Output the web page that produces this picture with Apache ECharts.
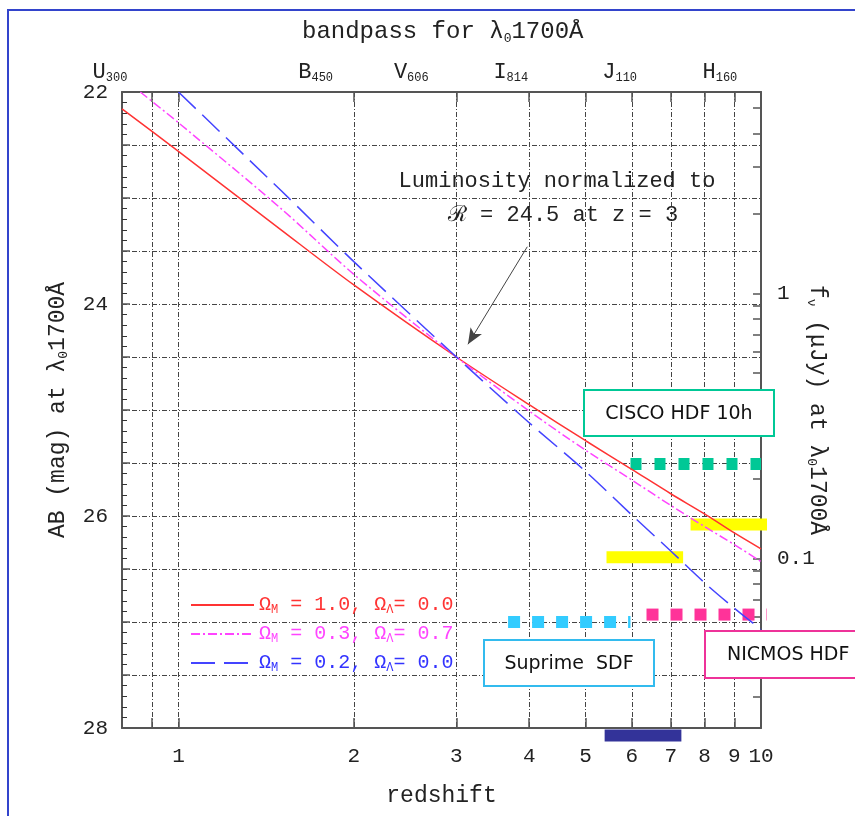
<!DOCTYPE html>
<html>
<head>
<meta charset="utf-8">
<script src="https://cdn.jsdelivr.net/npm/echarts@6/dist/echarts.min.js"></script>
<style>
  html, body { margin: 0; padding: 0; background: #fff; }
  #chart { width: 855px; height: 816px; }
</style>
</head>
<body>
<div id="chart"></div>
<script>
// model curves: AB mag at 1700A vs redshift, one array pair per cosmology
const zRed = [0.8, 1, 1.5, 2, 3, 4, 5, 6, 7, 8, 9, 10];
const abRed = [22.16, 22.56, 23.30, 23.82, 24.50, 24.95, 25.29, 25.56, 25.79, 25.98, 26.16, 26.31];
const zMag = [0.86, 1, 1.5, 2, 3, 4, 5, 6, 7, 8, 9, 10];
const abMag = [22.0, 22.29, 23.10, 23.72, 24.50, 25.01, 25.38, 25.66, 25.90, 26.10, 26.27, 26.43];
const zBlue = [1, 1.5, 2, 3, 4, 5, 6, 7, 8, 9, 10];
const abBlue = [22.0, 22.93, 23.60, 24.50, 25.12, 25.58, 25.99, 26.33, 26.63, 26.87, 27.07];

// survey limits: [zStart, zEnd] and AB level
const ciscoZ = [5.97, 10], ciscoAB = 25.51;
const suprimeZ = [3.68, 5.97], suprimeAB = 27.0;
const nicmosZ = [6.36, 10.24], nicmosAB = 26.93;
const yellowHiZ = [7.57, 10.24], yellowHiAB = 26.08;
const yellowLoZ = [5.43, 7.35], yellowLoAB = 26.39;
const navyZ = [5.39, 7.30], navyAB = 28.07;

// arrow of the normalisation note (data coords)
const arrowFrom = [3.97, 23.46];
const arrowTo = [3.14, 24.38];

// ticks
const zTicks = [0.9, 1, 2, 3, 4, 5, 6, 7, 8, 9, 10];
const zLabels = [1, 2, 3, 4, 5, 6, 7, 8, 9, 10];
const bandZ = [0.76, 1.72, 2.51, 3.72, 5.72, 8.5];
const bandName = ["U", "B", "V", "I", "J", "H"];
const bandSub = ["300", "450", "606", "814", "110", "160"];
const abLabels = [22, 24, 26, 28];
const fnuTicks = [0.03, 0.04, 0.05, 0.06, 0.07, 0.08, 0.09, 0.1, 0.2, 0.3, 0.4, 0.5, 0.6, 0.7, 0.8, 0.9, 1, 2, 3, 4, 5];
const fnuLabels = [0.1, 1];
const fnuMax = 5.754;  // = AB 22
const fnuMin = 0.02291; // = AB 28

const seriesNames = ["ΩM = 1.0, ΩΛ= 0.0", "ΩM = 0.3, ΩΛ= 0.7", "ΩM = 0.2, ΩΛ= 0.0"];
const seriesLegend = [
  "{n|Ω}{s|M}{n| = 1.0, Ω}{s|Λ}{n|= 0.0}",
  "{n|Ω}{s|M}{n| = 0.3, Ω}{s|Λ}{n|= 0.7}",
  "{n|Ω}{s|M}{n| = 0.2, Ω}{s|Λ}{n|= 0.0}",
];

const MONO = "Liberation Mono";
const SANS = "DejaVu Sans";
const INK = "#222";
const AXIS = "#555";
const gridLine = { color: "#444", type: [5, 2, 1, 2], width: 1 };

const pairs = (zs, abs) => zs.map((z, i) => [z, abs[i]]);

const subRich = (size, sub) => ({
  t: { fontFamily: MONO, fontSize: size, fontWeight: "normal", color: INK, lineHeight: size + 2 },
  s: { fontFamily: MONO, fontSize: sub, fontWeight: "normal", color: INK, verticalAlign: "bottom", lineHeight: sub },
});

// horizontal limit bar / dotted line
const limit = (zs, ab, color, dash) => ({
  type: "line",
  data: [[zs[0], ab], [zs[1], ab]],
  symbol: "none",
  clip: false,
  silent: true,
  z: 3,
  lineStyle: { color: color, width: 12, type: dash, cap: "butt" },
});

const box = (x, y, w, h, stroke, label, tx, align) => [
  { type: "rect", z: 100, silent: true, shape: { x: x, y: y, width: w, height: h }, style: { fill: "#fff", stroke: stroke, lineWidth: 2 } },
  { type: "text", z: 101, silent: true, x: tx, y: y + h / 2 + 1, style: { text: label, font: "19px " + SANS, fill: "#111", textAlign: align, textVerticalAlign: "middle" } },
];

const chart = echarts.init(document.getElementById("chart"));

const option = {
  animation: false,
  backgroundColor: "#fff",
  title: {
    text: "{t|bandpass for λ}{s|0}{t|1700Å}",
    left: 297,
    top: 14,
    textStyle: { fontWeight: "normal", rich: subRich(24, 13) },
  },
  legend: {
    orient: "vertical",
    left: 185,
    top: 590,
    itemWidth: 63,
    itemHeight: 14,
    itemGap: 8,
    selectedMode: false,
    itemStyle: { opacity: 0 },
    data: [
      { name: seriesNames[0], textStyle: { color: "#ff3333" } },
      { name: seriesNames[1], textStyle: { color: "#ff44ff" } },
      { name: seriesNames[2], textStyle: { color: "#3333ff" } },
    ],
    formatter: (name) => seriesLegend[seriesNames.indexOf(name)],
    textStyle: {
      fontFamily: MONO,
      fontSize: 20,
      rich: {
        n: { fontFamily: MONO, fontSize: 20, lineHeight: 22 },
        s: { fontFamily: MONO, fontSize: 12, verticalAlign: "bottom", lineHeight: 12 },
      },
    },
  },
  grid: { left: 122, right: 94, top: 92, bottom: 88 },
  xAxis: [
    {
      type: "log",
      logBase: 10,
      min: 0.8,
      max: 10,
      position: "bottom",
      name: "redshift",
      nameLocation: "middle",
      nameGap: 56,
      nameTextStyle: { fontFamily: MONO, fontSize: 23, color: INK },
      axisLine: { show: true, lineStyle: { color: AXIS, width: 2 } },
      axisTick: { show: true, inside: true, length: 10, customValues: zTicks, lineStyle: { color: AXIS, width: 1.5 } },
      axisLabel: {
        customValues: zLabels,
        formatter: (v) => String(Math.round(v)),
        fontFamily: MONO,
        fontSize: 21,
        color: INK,
        margin: 18,
      },
      splitLine: { show: true, lineStyle: gridLine },
      minorTick: { show: false },
    },
    {
      type: "log",
      logBase: 10,
      min: 0.8,
      max: 10,
      position: "top",
      axisLine: { show: true, lineStyle: { color: AXIS, width: 2 } },
      axisTick: { show: true, inside: true, length: 10, customValues: zTicks, lineStyle: { color: AXIS, width: 1.5 } },
      axisLabel: {
        customValues: bandZ,
        margin: 8,
        formatter: (v) => {
          let k = 0;
          bandZ.forEach((b, i) => { if (Math.abs(b - v) < Math.abs(bandZ[k] - v)) k = i; });
          return "{t|" + bandName[k] + "}{s|" + bandSub[k] + "}";
        },
        rich: subRich(22, 12),
      },
      splitLine: { show: false },
    },
  ],
  yAxis: [
    {
      type: "value",
      min: 22,
      max: 28,
      interval: 0.5,
      inverse: true,
      position: "left",
      name: "{t|AB (mag) at λ}{s|0}{t|1700Å}",
      nameLocation: "middle",
      nameGap: 52,
      nameTextStyle: { rich: subRich(23, 13) },
      axisLine: { show: true, lineStyle: { color: AXIS, width: 2 } },
      axisTick: { show: true, inside: true, length: 8, lineStyle: { color: AXIS, width: 1.5 } },
      minorTick: { show: true, splitNumber: 5, length: 5, lineStyle: { color: "#333", width: 1 } },
      axisLabel: {
        formatter: (v) => (abLabels.indexOf(v) >= 0 ? String(v) : ""),
        fontFamily: MONO,
        fontSize: 21,
        color: INK,
        margin: 14,
      },
      splitLine: { show: true, lineStyle: gridLine },
    },
    {
      type: "log",
      logBase: 10,
      min: fnuMin,
      max: fnuMax,
      position: "right",
      name: "{t|f}{s|ν}{t| (μJy) at λ}{s|0}{t|1700Å}",
      nameLocation: "middle",
      nameRotate: -90,
      nameGap: 44,
      nameMoveOverlap: false,
      nameTextStyle: { rich: subRich(23, 13) },
      axisLine: { show: true, lineStyle: { color: AXIS, width: 2 } },
      axisTick: { show: true, inside: true, length: 8, customValues: fnuTicks, lineStyle: { color: AXIS, width: 1.5 } },
      axisLabel: {
        customValues: fnuLabels,
        formatter: (v) => (v < 0.5 ? "0.1" : "1"),
        fontFamily: MONO,
        fontSize: 21,
        color: INK,
        margin: 16,
      },
      splitLine: { show: false },
    },
  ],
  series: [
    {
      name: seriesNames[0],
      type: "line",
      data: pairs(zRed, abRed),
      smooth: 0.3,
      symbol: "none",
      z: 4,
      itemStyle: { color: "#ff3333" },
      lineStyle: { color: "#ff3333", width: 1.5 },
      markLine: {
        silent: true,
        symbol: ["none", "arrow"],
        symbolSize: [10, 16],
        label: { show: false },
        lineStyle: { color: "#444", width: 1, type: "solid" },
        data: [[{ coord: arrowFrom }, { coord: arrowTo }]],
      },
    },
    {
      name: seriesNames[1],
      type: "line",
      data: pairs(zMag, abMag),
      smooth: 0.3,
      symbol: "none",
      z: 4,
      itemStyle: { color: "#ff44ff" },
      lineStyle: { color: "#ff44ff", width: 1.5, type: [9, 3, 2, 3] },
    },
    {
      name: seriesNames[2],
      type: "line",
      data: pairs(zBlue, abBlue),
      smooth: 0.3,
      symbol: "none",
      z: 4,
      itemStyle: { color: "#4444ff" },
      lineStyle: { color: "#4444ff", width: 1.5, type: [24, 9] },
    },
    limit(ciscoZ, ciscoAB, "#00c896", [11, 13]),
    limit(suprimeZ, suprimeAB, "#33ccff", [12, 12]),
    limit(nicmosZ, nicmosAB, "#ff3399", [12, 12]),
    limit(yellowHiZ, yellowHiAB, "#ffff00", "solid"),
    limit(yellowLoZ, yellowLoAB, "#ffff00", "solid"),
    limit(navyZ, navyAB, "#333399", "solid"),
  ],
  graphic: [
    {
      type: "rect", z: 100, silent: true,
      shape: { x: 8, y: 10, width: 870, height: 830 },
      style: { fill: "none", stroke: "#3344cc", lineWidth: 2 },
    },
    // U band sits just left of the z axis range, so it is placed by hand
    {
      type: "text", z: 100, silent: true, x: 110, y: 84,
      style: {
        text: "{t|" + bandName[0] + "}{s|" + bandSub[0] + "}",
        textAlign: "center",
        textVerticalAlign: "bottom",
        rich: {
          t: { fontFamily: MONO, fontSize: 22, fill: INK, lineHeight: 24 },
          s: { fontFamily: MONO, fontSize: 12, fill: INK, verticalAlign: "bottom", lineHeight: 12 },
        },
      },
    },
    {
      type: "text", z: 100, silent: true, x: 557, y: 181,
      style: { text: "Luminosity normalized to", font: "22px " + MONO, fill: INK, textAlign: "center", textVerticalAlign: "middle" },
    },
    {
      type: "text", z: 100, silent: true, x: 563, y: 215,
      style: { text: "ℛ = 24.5 at z = 3", font: "22px " + MONO, fill: INK, textAlign: "center", textVerticalAlign: "middle" },
    },
  ]
    .concat(box(584, 390, 190, 46, "#00c896", "CISCO HDF 10h", 679, "center"))
    .concat(box(484, 640, 170, 46, "#33bbee", "Suprime  SDF", 569, "center"))
    .concat(box(705, 631, 170, 47, "#ee3399", "NICMOS HDF", 727, "left")),
};

chart.setOption(option);
</script>
</body>
</html>
